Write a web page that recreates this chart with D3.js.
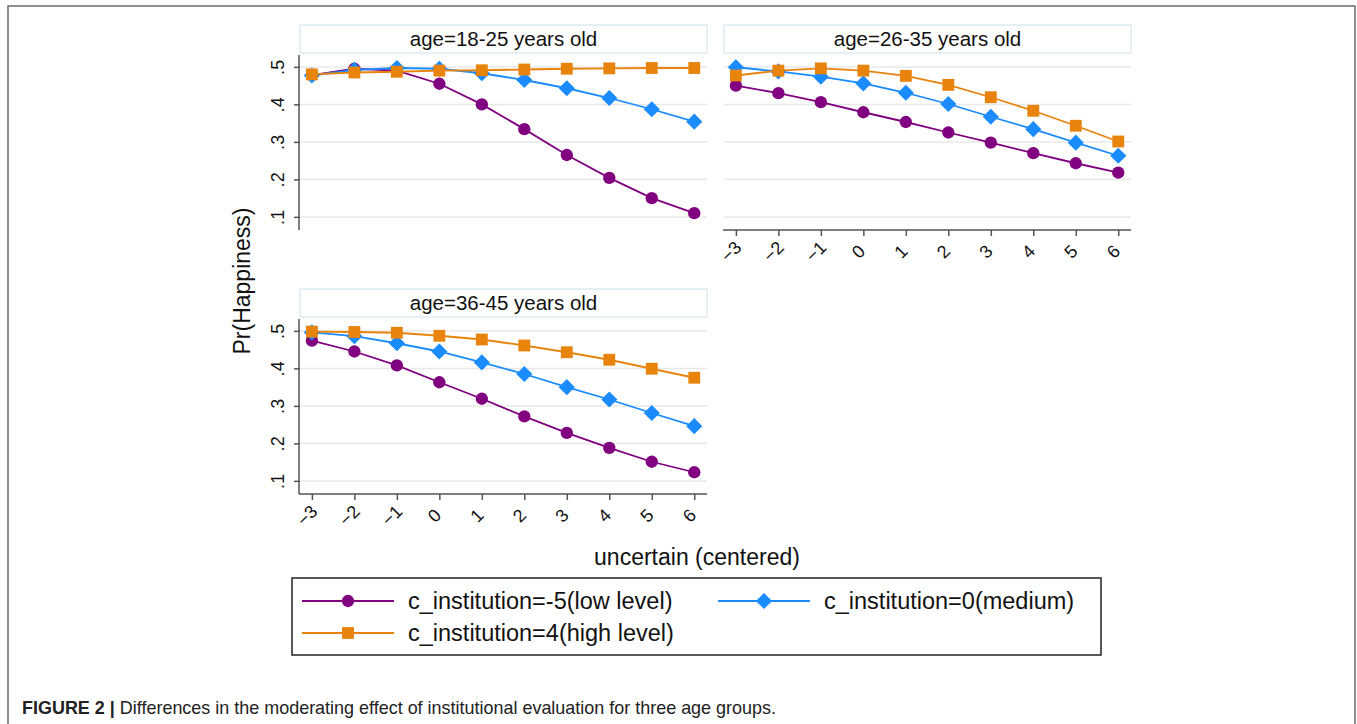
<!DOCTYPE html>
<html>
<head>
<meta charset="utf-8">
<script src="https://cdn.jsdelivr.net/npm/d3@7"></script>
<style>
  body { margin: 0; background: #fff; }
  svg { display: block; font-family: "Liberation Sans", Arial, sans-serif; }
</style>
</head>
<body>
<svg width="1357" height="724"></svg>
<script>
// x values (uncertain, centered)
const xValues = [-3, -2, -1, 0, 1, 2, 3, 4, 5, 6];
const yTicks = [0.1, 0.2, 0.3, 0.4, 0.5];
const yTickLabels = [".1", ".2", ".3", ".4", ".5"];

const panelTitles = ["age=18-25 years old", "age=26-35 years old", "age=36-45 years old"];
const seriesNames = ["c_institution=-5(low level)", "c_institution=0(medium)", "c_institution=4(high level)"];
const seriesColors = ["#800080", "#1a8cff", "#e8830c"];

// age 18-25
const low18 = [0.478, 0.495, 0.490, 0.455, 0.400, 0.334, 0.265, 0.204, 0.150, 0.110];
const med18 = [0.477, 0.492, 0.497, 0.495, 0.483, 0.465, 0.443, 0.417, 0.387, 0.354];
const high18 = [0.480, 0.485, 0.487, 0.490, 0.491, 0.493, 0.495, 0.496, 0.497, 0.497];
// age 26-35
const low26 = [0.450, 0.430, 0.406, 0.379, 0.353, 0.325, 0.298, 0.270, 0.243, 0.218];
const med26 = [0.499, 0.488, 0.474, 0.456, 0.431, 0.401, 0.367, 0.334, 0.298, 0.263];
const high26 = [0.477, 0.490, 0.496, 0.490, 0.476, 0.452, 0.419, 0.383, 0.343, 0.301];
// age 36-45
const low36 = [0.474, 0.445, 0.408, 0.363, 0.319, 0.272, 0.228, 0.188, 0.151, 0.123];
const med36 = [0.496, 0.486, 0.467, 0.445, 0.416, 0.385, 0.350, 0.317, 0.281, 0.246];
const high36 = [0.498, 0.497, 0.495, 0.487, 0.477, 0.461, 0.443, 0.423, 0.399, 0.375];

const panelData = [[low18, med18, high18], [low26, med26, high26], [low36, med36, high36]];

const svg = d3.select("svg");

// outer figure frame
svg.append("rect")
  .attr("x", 8).attr("y", 6).attr("width", 1347).attr("height", 740)
  .attr("fill", "none").attr("stroke", "#6b6b6b").attr("stroke-width", 1.5);

const pw = 407, ph = 174;
const panels = [
  { x: 300, y: 56, title: panelTitles[0], yAxis: true, xAxis: false },
  { x: 724, y: 56, title: panelTitles[1], yAxis: false, xAxis: true },
  { x: 300, y: 320, title: panelTitles[2], yAxis: true, xAxis: true }
];

const xScale = d3.scaleLinear().domain([-3.28, 6.3]).range([0, pw]);
const yScale = d3.scaleLinear().domain([0.065, 0.529]).range([ph, 0]);

const symbols = [
  d3.symbol().type(d3.symbolCircle).size(120),
  d3.symbol().type(d3.symbolSquare).size(130),
  d3.symbol().type(d3.symbolSquare).size(140)
];
const symRotate = [0, 45, 0];

const line = d3.line().x((d, i) => xScale(xValues[i])).y(d => yScale(d));

panels.forEach((p, pi) => {
  const g = svg.append("g").attr("transform", `translate(${p.x},${p.y})`);

  // title box
  g.append("rect")
    .attr("x", 0).attr("y", -31).attr("width", pw).attr("height", 28)
    .attr("fill", "#fff").attr("stroke", "#d5e6ef").attr("stroke-width", 1.2);
  g.append("text")
    .attr("x", pw / 2).attr("y", -10)
    .attr("text-anchor", "middle")
    .attr("font-size", 20.5).attr("fill", "#111")
    .text(p.title);

  // grid lines
  g.selectAll(".grid").data(yTicks).join("line")
    .attr("x1", 0).attr("x2", pw)
    .attr("y1", d => yScale(d)).attr("y2", d => yScale(d))
    .attr("stroke", "#e8e8e8").attr("stroke-width", 1.5);

  if (p.yAxis) {
    const ya = g.append("g").call(
      d3.axisLeft(yScale).tickValues(yTicks).tickSize(6)
        .tickFormat((d, i) => yTickLabels[i])
    );
    ya.select(".domain").attr("stroke", "#555").attr("stroke-width", 1.5)
      .attr("d", `M-1,-1V${ph}`);
    ya.selectAll(".tick line").attr("stroke", "#555").attr("stroke-width", 1.5);
    ya.selectAll(".tick text")
      .attr("font-size", 18).attr("fill", "#111")
      .attr("font-family", "Liberation Sans, Arial, sans-serif")
      .attr("x", 0).attr("dy", 0)
      .attr("text-anchor", "middle")
      .attr("transform", "translate(-16,0) rotate(-90)");
  }

  if (p.xAxis) {
    const xa = g.append("g").attr("transform", `translate(0,${ph})`).call(
      d3.axisBottom(xScale).tickValues(xValues).tickSize(6).tickFormat(d3.format("d"))
    );
    xa.select(".domain").attr("stroke", "#555").attr("stroke-width", 1.5)
      .attr("d", `M-1,0H${pw}`);
    xa.selectAll(".tick line").attr("stroke", "#555").attr("stroke-width", 1.5);
    xa.selectAll(".tick text")
      .attr("font-size", 18).attr("fill", "#111")
      .attr("font-family", "Liberation Sans, Arial, sans-serif")
      .attr("y", 0).attr("dy", 0)
      .attr("text-anchor", "middle")
      .attr("transform", "translate(-1,26) rotate(-45)");
  }

  panelData[pi].forEach((vals, si) => {
    g.append("path")
      .datum(vals)
      .attr("d", line)
      .attr("fill", "none")
      .attr("stroke", seriesColors[si])
      .attr("stroke-width", 1.8);
    g.selectAll(".m" + si).data(vals).join("path")
      .attr("d", symbols[si])
      .attr("transform", (d, i) => `translate(${xScale(xValues[i])},${yScale(d)}) rotate(${symRotate[si]})`)
      .attr("fill", seriesColors[si]);
  });
});

// axis titles
svg.append("text")
  .attr("transform", "translate(250,281) rotate(-90)")
  .attr("text-anchor", "middle")
  .attr("font-size", 23).attr("fill", "#111")
  .text("Pr(Happiness)");

svg.append("text")
  .attr("x", 697).attr("y", 565)
  .attr("text-anchor", "middle")
  .attr("font-size", 23).attr("fill", "#111")
  .text("uncertain (centered)");

// legend
const lg = svg.append("g");
lg.append("rect")
  .attr("x", 292).attr("y", 578).attr("width", 809).attr("height", 77)
  .attr("fill", "#fff").attr("stroke", "#222").attr("stroke-width", 1.5);

const legendPos = [
  { x: 302, y: 601 },
  { x: 718, y: 601 },
  { x: 302, y: 633 }
];
seriesNames.forEach((name, si) => {
  const lp = legendPos[si];
  lg.append("line")
    .attr("x1", lp.x).attr("x2", lp.x + 92)
    .attr("y1", lp.y).attr("y2", lp.y)
    .attr("stroke", seriesColors[si]).attr("stroke-width", 2);
  lg.append("path")
    .attr("d", symbols[si])
    .attr("transform", `translate(${lp.x + 46},${lp.y}) rotate(${symRotate[si]})`)
    .attr("fill", seriesColors[si]);
  lg.append("text")
    .attr("x", lp.x + 106).attr("y", lp.y + 8)
    .attr("font-size", 23.5).attr("fill", "#111")
    .text(name);
});

// caption
const cap = svg.append("text")
  .attr("x", 22).attr("y", 714)
  .attr("font-size", 18.5).attr("fill", "#222")
  .attr("font-family", "Liberation Sans, Arial, sans-serif")
  .attr("textLength", 754).attr("lengthAdjust", "spacingAndGlyphs");
cap.append("tspan").attr("font-weight", "bold").text("FIGURE 2 | ");
cap.append("tspan").text("Differences in the moderating effect of institutional evaluation for three age groups.");
</script>
</body>
</html>
